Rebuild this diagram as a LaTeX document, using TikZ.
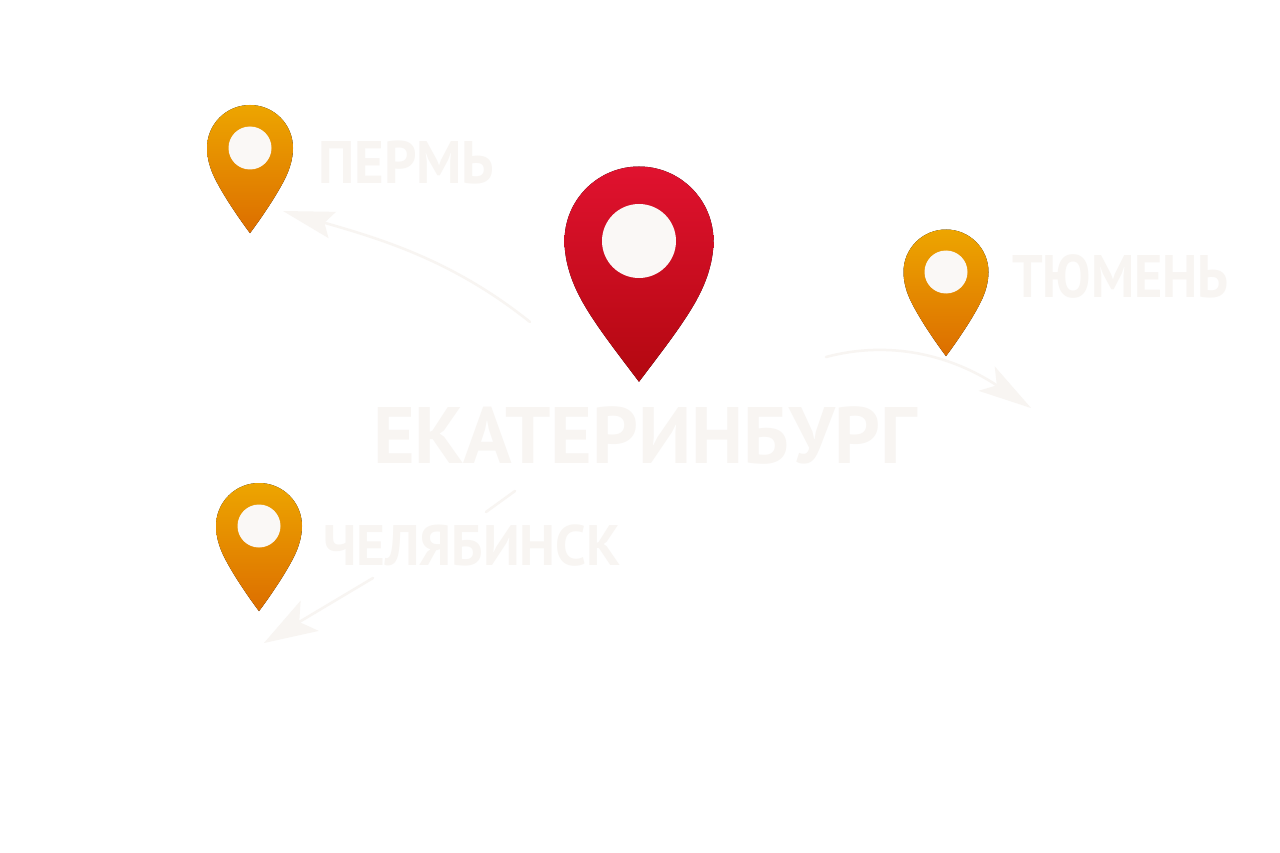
\documentclass[tikz,border=0pt]{standalone}
\usepackage{fontspec}
\setmainfont{PT Sans}
\usetikzlibrary{arrows.meta}

\definecolor{pale}{HTML}{F8F5F2}
\definecolor{redtop}{HTML}{E0122F}
\definecolor{redbot}{HTML}{B30810}
\definecolor{ambertop}{HTML}{EDA500}
\definecolor{amberbot}{HTML}{DC6E00}

\tikzset{
  city/.style={text=pale, font=\bfseries\fontsize{#1}{#1}\selectfont, inner sep=0pt, anchor=base west, transform shape},
  route/.style={draw=pale, line width=2.5pt, line cap=round},
}

% x, y, radius, dot radius, top colour, bottom colour, tip
\newcommand{\mappin}[7]{
  \begin{scope}[shift={(#1,#2)}, x=#3pt, y=-#3pt]
    \fill[top color=#5, bottom color=#6, middle color=#5!50!#6]
      (-1,0) arc[start angle=180, end angle=360, radius=1]
      .. controls (1,.25) and (.92,.5) .. (.82,.7)
      .. controls (.65,1.05) and (.3,#7-.4) .. (0,#7)
      .. controls (-.3,#7-.4) and (-.65,1.05) .. (-.82,.7)
      .. controls (-.92,.5) and (-1,.25) .. (-1,0) -- cycle;
  \end{scope}
  \fill[pale!70!white] (#1,#2) circle[radius=#4];
}

\begin{document}
\begin{tikzpicture}[x=1pt, y=-1pt]
    \useasboundingbox (0,0) rectangle (1280,853);
    \fill[white] (0,0) rectangle (1280,853);

    \foreach \x/\y/\r/\d in {250/148/43/21.5, 946/272/42.5/21.5, 259/526/43/21.5}
    \mappin{\x}{\y}{\r}{\d}{ambertop}{amberbot}{1.98};
    \mappin{639}{241}{74.5}{37}{redtop}{redbot}{1.89};

    \node[city=80] (ekb) at (373,463) {ЕКАТЕРИНБУРГ};
    \node[city=60, xscale=.945] (perm) at (318,184) {ПЕРМЬ};
    \node[city=60, xscale=.9] (tyumen) at (1012,298) {ТЮМЕНЬ};
    \node[city=57, xscale=.967] (chel) at (323,565) {ЧЕЛЯБИНСК};

    \coordinate (permstart) at (530,322);
    \coordinate (permend) at (283,211);
    \coordinate (tyumenstart) at (826,357);
    \coordinate (tyumenend) at (1031,408);
    \coordinate (chelstart) at (515,491);
    \coordinate (chelgap) at (486,512);
    \coordinate (chelresume) at (373,578);
    \coordinate (chelend) at (264,643);

    \draw[route, -{Stealth[length=51pt, width=27pt, inset=8pt]}]
      (permstart) .. controls (455,262) and (385,240) .. (permend);
    \draw[route, -{Stealth[length=53pt, width=29pt, inset=12pt]}]
      (tyumenstart) .. controls (890,340) and (951,355) .. (tyumenend);
    \draw[route] (chelstart) -- (chelgap);
    \draw[route, -{Stealth[length=53pt, width=35pt, inset=12pt]}]
      (chelresume) -- (chelend);

  \end{tikzpicture}
\end{document}
